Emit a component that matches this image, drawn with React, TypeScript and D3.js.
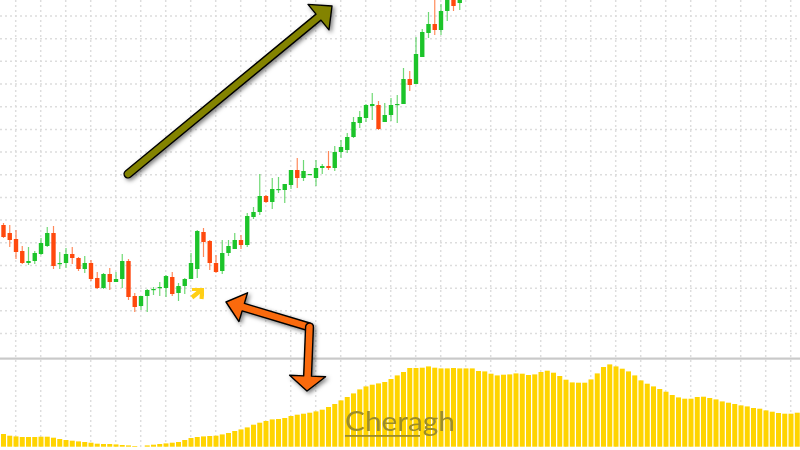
import { useEffect, useRef } from 'react'
import * as d3 from 'd3'

const W = 800, H = 450

// candles (no price axis in the source, so the units are arbitrary)
const opens  = [225,217,211,199,187,189,196,204,217,186,187,196,192,181,187,172,162,176,168,171,189,154,144,154,160,162,162,173,157,164,171,181,218,209,187,179,197,201,210,205,233,238,254,248,260,260,265,280,272,275,272,282,284,282,298,300,313,327,332,344,345,328,335,345,346,371,366,393,417,426,420,439,456,447]
const closes = [213,210,198,187,189,197,207,217,184,187,196,192,181,187,171,162,176,168,171,189,153,143,154,160,161,163,174,156,164,171,187,219,208,187,178,197,204,210,205,234,238,254,248,261,261,266,280,272,279,276,282,284,282,298,303,313,328,333,345,346,321,335,345,346,371,365,396,418,426,420,439,456,444,456]
const highs  = [227,225,220,204,203,199,212,223,224,198,202,203,193,194,190,178,177,182,178,196,191,157,154,161,163,168,175,178,167,172,197,220,222,210,195,210,210,217,215,237,243,276,255,272,273,266,280,292,290,276,290,286,299,304,310,317,333,339,346,357,349,347,352,355,382,379,413,421,438,455,446,460,460,460]
const lows   = [212,203,191,186,185,186,195,203,181,181,182,186,179,177,169,161,161,160,168,162,150,138,140,138,155,154,153,154,149,156,171,172,193,180,177,176,194,201,201,203,231,235,247,241,257,247,261,262,269,275,264,276,280,279,292,297,312,322,328,330,320,328,329,327,346,359,366,393,412,415,415,429,439,440]

// yellow indicator pane, one value per bar
const indicator = [12.7,11,10.3,9.7,9.7,9.7,10,10,9,7.7,6.7,6,5.3,4.7,4,3,2.7,2.7,2.3,1.7,1.3,0.7,0,1.3,2,2.7,3.3,4,4.7,6.7,8.7,9.7,10.3,10.7,11,12.3,13.7,15.7,17.3,19.3,22,24,25.7,27.3,27.7,28.7,30.7,32,33,34,35.3,37,39.7,42.7,46.3,49.7,53.3,57.3,60.3,62,63.3,64.7,67.7,71.3,74.7,78.7,78.7,79,80.3,79,78.3,78.3,78.7,78.3,78.3,78.3,75.7,75.3,73,71.3,72,72.3,73.3,73,71.7,72.3,74.7,76,74,70.7,67,64.3,64,64,67.3,73.3,79.7,82.3,80.3,78,75.3,71.3,66.3,63,60.3,57.7,55,51.7,49.3,48,48,49.7,50,48.7,47.3,45.3,44,42.7,41.3,40.3,38.7,38,36.3,35,33.7,33,33,34]

const GREEN = '#1fc42c', RED = '#ff4a0a', YELLOW = '#ffd405'

// outline of a straight arrow with a flat head and a rounded tail
function arrowPath(x0: number, y0: number, x1: number, y1: number, hw: number, headLen: number, headHw: number) {
  const a = Math.atan2(y1 - y0, x1 - x0)
  const ux = Math.cos(a), uy = Math.sin(a), nx = -uy, ny = ux
  const bx = x1 - ux * headLen, by = y1 - uy * headLen
  const p = d3.path()
  p.moveTo(x0 + nx * hw, y0 + ny * hw)
  p.lineTo(bx + nx * hw, by + ny * hw)
  p.lineTo(bx + nx * headHw, by + ny * headHw)
  p.lineTo(x1, y1)
  p.lineTo(bx - nx * headHw, by - ny * headHw)
  p.lineTo(bx - nx * hw, by - ny * hw)
  p.lineTo(x0 - nx * hw, y0 - ny * hw)
  p.arc(x0, y0, hw, a - Math.PI / 2, a + Math.PI / 2, true)
  p.closePath()
  return p.toString()
}

export default function App() {
  const ref = useRef<SVGSVGElement>(null)

  useEffect(() => {
    const svg = d3.select(ref.current!)
    svg.selectAll('*').remove()

    const defs = svg.append('defs')
    const f = defs.append('filter').attr('id', 'shadow').attr('x', '-20%').attr('y', '-20%').attr('width', '150%').attr('height', '150%')
    f.append('feDropShadow').attr('dx', 2).attr('dy', 2).attr('stdDeviation', 2)
      .attr('flood-color', '#000').attr('flood-opacity', 0.5)
    const soft = defs.append('filter').attr('id', 'soft')
    soft.append('feGaussianBlur').attr('stdDeviation', 0.4)

    const xScale = d3.scaleLinear().domain([0, 127]).range([3.5, 797.25])
    const yScale = d3.scaleLinear().domain([0, 450]).range([450, 0])
    const indScale = d3.scaleLinear().domain([0, 100]).range([446.7, 346.7])

    // faint dotted grid
    const grid = svg.append('g').attr('stroke', '#dddddd').attr('stroke-width', 1.5).attr('stroke-dasharray', '2 3')
    d3.range(15.7, W, 25).forEach(x => {
      grid.append('line').attr('x1', x).attr('x2', x).attr('y1', 0).attr('y2', H)
    })
    d3.range(16, 356, 22.68).forEach(y => {
      grid.append('line').attr('x1', 0).attr('x2', W).attr('y1', y).attr('y2', y)
    })

    // pane separator
    svg.append('rect').attr('x', 0).attr('y', 357.5).attr('width', W).attr('height', 2.2).attr('fill', '#c9c9c9')

    // indicator bars
    svg.append('g').attr('filter', 'url(#soft)').selectAll('rect').data(indicator).join('rect')
      .attr('x', (_, i) => xScale(i) - 2.5)
      .attr('width', 5)
      .attr('y', d => indScale(d))
      .attr('height', d => indScale(0) - indScale(d))
      .attr('fill', YELLOW)

    // candles
    const candles = svg.append('g').attr('filter', 'url(#soft)')
    opens.forEach((o, i) => {
      const c = closes[i]
      const col = c >= o ? GREEN : RED
      const x = xScale(i)
      candles.append('line').attr('x1', x).attr('x2', x)
        .attr('y1', yScale(highs[i])).attr('y2', yScale(lows[i]))
        .attr('stroke', col).attr('stroke-width', 1.2).attr('opacity', 0.65)
      const top = yScale(Math.max(o, c)), bot = yScale(Math.min(o, c))
      candles.append('rect').attr('x', x - 2.2).attr('width', 4.4)
        .attr('y', top).attr('height', Math.max(bot - top, 1.2)).attr('fill', col)
    })

    // annotations drawn over the chart
    const marks = svg.append('g').attr('stroke', '#000').attr('stroke-width', 1.4).attr('stroke-linejoin', 'round').attr('filter', 'url(#shadow)')
    marks.append('path').attr('d', arrowPath(128, 174, 332, 6, 3.9, 17.5, 16.5)).attr('fill', '#838300')
    marks.append('path').attr('d', arrowPath(309.5, 327, 226, 302, 3.9, 18, 15)).attr('fill', '#fa6a0c')
    marks.append('path').attr('d', arrowPath(309.5, 327, 307, 391, 3.9, 15, 18)).attr('fill', '#fa6a0c')

    const chevron = svg.append('g').attr('fill', 'none').attr('stroke', '#ffcf14').attr('stroke-width', 4.2).attr('filter', 'url(#soft)')
    chevron.append('path').attr('d', 'M192,297.5L202.5,289')
    chevron.append('path').attr('d', 'M192,289H202.5L201.5,299')

    // watermark
    const mark = svg.append('g').attr('filter', 'url(#soft)')
    mark.append('text').attr('x', 345).attr('y', 431)
      .attr('font-family', 'Lato, "Open Sans", sans-serif').attr('font-size', 27).attr('font-weight', 400)
      .attr('textLength', 110).attr('lengthAdjust', 'spacingAndGlyphs').attr('fill', '#9c8c2a').text('Cheragh')
    mark.append('rect').attr('x', 345).attr('y', 435).attr('width', 75).attr('height', 1.8).attr('fill', '#9c8c2a')
  }, [])

  return <svg ref={ref} width={W} height={H} style={{ position: 'absolute', left: 0, top: 0, background: '#fff' }} />
}
